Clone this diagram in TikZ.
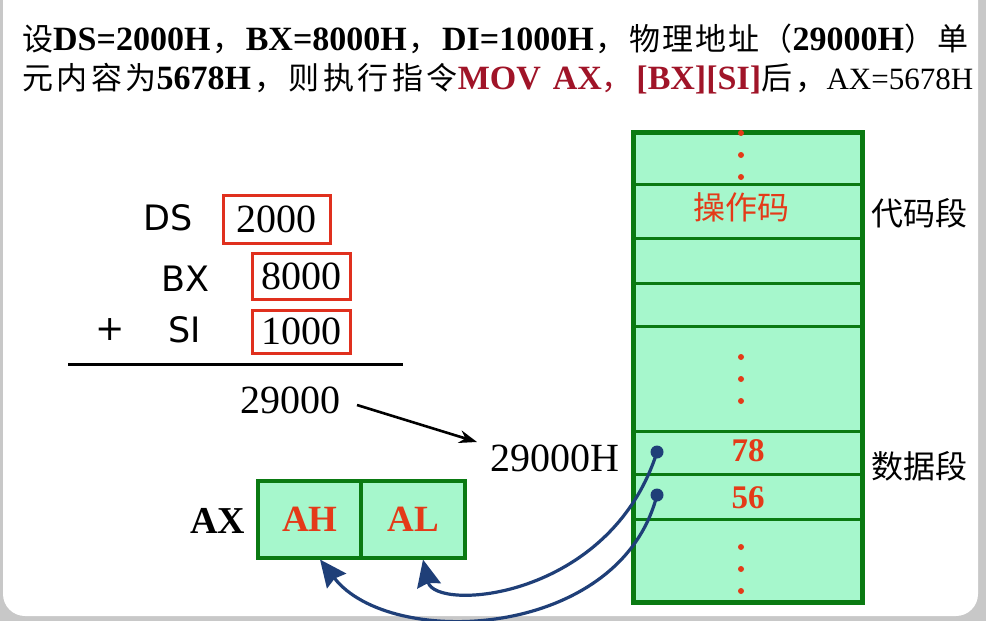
\documentclass[tikz,border=0pt]{standalone}
\usepackage{fontspec}
\setmainfont{Liberation Serif}
\newfontfamily\zhfont{Noto Sans CJK SC}
\newfontfamily\lblsans{DejaVu Sans}
\usetikzlibrary{arrows.meta}
\newcommand{\zh}[1]{{\zhfont\mdseries\fontsize{31}{31}\selectfont #1}}
\newcommand{\gl}{\hspace{0pt plus 1fil}}
\definecolor{mint}{HTML}{A6F7CC}
\definecolor{dgreen}{HTML}{0A7A12}
\definecolor{boxred}{HTML}{E0301E}
\definecolor{txtred}{HTML}{E43A18}
\definecolor{darkred}{HTML}{A01428}
\definecolor{curveblue}{HTML}{1F3F78}
\definecolor{framegray}{HTML}{C8C8C8}
\tikzset{
  cell/.style={draw=dgreen, line width=3pt, fill=mint, minimum width=227pt, anchor=north west, inner sep=0pt},
  regbox/.style={draw=boxred, line width=3pt, inner sep=0pt, font=\fontsize{40}{40}\selectfont},
  lbl/.style={inner sep=0pt, font=\lblsans\fontsize{35}{35}\selectfont},
  dotr/.style={circle, fill=txtred, inner sep=0pt, minimum size=6pt},
  bdot/.style={circle, fill=curveblue, inner sep=0pt, minimum size=13pt},
  flow/.style={draw=curveblue, line width=3.2pt, -{Stealth[length=27pt,width=24pt,inset=3pt]}},
  axcell/.style={draw=dgreen, line width=4pt, fill=mint, minimum height=77pt, inner sep=0pt, font=\bfseries\fontsize{37}{37}\selectfont\color{txtred}},
  ttl/.style={anchor=base west, inner sep=0pt, font=\bfseries\fontsize{34}{34}\selectfont},
}
\begin{document}
\begin{tikzpicture}[x=1pt,y=-1pt]
\useasboundingbox (0,0) rectangle (986,621);
\fill[framegray] (0,0) rectangle (986,621);
\fill[white, rounded corners=22pt] (3,-30) rectangle (978,616);
% title
\node[ttl] (t1) at (22,50)
  {\makebox[946pt][s]{\zh{设}DS=2000H\gl\zh{，}\gl BX=8000H\gl\zh{，}\gl DI=1000H\gl\zh{，}\gl\zh{物}\gl\zh{理}\gl\zh{地}\gl\zh{址}\gl\zh{（}29000H\zh{）}\gl\zh{单}}};
\node[ttl] (t2) at (22,89)
  {\makebox[951pt][s]{\zh{元}\gl\zh{内}\gl\zh{容}\gl\zh{为}5678H\gl\zh{，}\gl\zh{则}\gl\zh{执}\gl\zh{行}\gl\zh{指}\gl\zh{令}\textcolor{darkred}{MOV\gl\ AX\zh{，}\gl[BX][SI]}\zh{后}\gl\zh{，}{\mdseries\fontsize{31}{31}\selectfont AX=5678H}}};
% memory column
\node[cell, minimum height=51pt] (m1) at (633,132) {};
\node[cell, minimum height=54pt] (m2) at (633,183) {};
\node[cell, minimum height=45pt] (m3) at (633,237) {};
\node[cell, minimum height=43pt] (m4) at (633,282) {};
\node[cell, minimum height=105pt] (m5) at (633,325) {};
\node[cell, minimum height=43pt] (m6) at (633,430) {};
\node[cell, minimum height=45pt] (m7) at (633,473) {};
\node[cell, minimum height=82pt] (m8) at (633,518) {};
\draw[dgreen, line width=4.5pt] (m1.north west) rectangle (m8.south east);
\foreach \y [count=\i] in {133,155,177,357,379,401,547,569,591}
  \node[dotr] (dot\i) at (741,\y) {};
\node[inner sep=0pt, font=\zhfont\fontsize{32}{32}\selectfont, text=txtred] (op) at (741,207) {操作码};
\node[inner sep=0pt, font=\bfseries\fontsize{33}{33}\selectfont, text=txtred] (v78) at (748,451) {78};
\node[inner sep=0pt, font=\bfseries\fontsize{33}{33}\selectfont, text=txtred] (v56) at (748,498) {56};
\node[inner sep=0pt, font=\zhfont\fontsize{32}{32}\selectfont] (cs) at (919,213) {代码段};
\node[inner sep=0pt, font=\zhfont\fontsize{32}{32}\selectfont] (dsg) at (919,466) {数据段};
% address computation
\node[lbl] (ds) at (168,218) {DS};
\node[regbox, minimum width=107pt, minimum height=48pt] (r1) at (276.5,219) {2000};
\node[lbl] (bx) at (185,279) {BX};
\node[regbox, minimum width=98pt, minimum height=46pt] (r2) at (301,276) {8000};
\node[lbl] (plus) at (110,330) {+};
\node[lbl] (si) at (185,330) {SI};
\node[regbox, minimum width=98pt, minimum height=43pt] (r3) at (301,331.5) {1000};
\coordinate (la) at (68,364);
\coordinate (lb) at (403,364);
\draw[line width=3pt] (la) -- (lb);
\node[inner sep=0pt, font=\fontsize{40}{40}\selectfont] (sum) at (290,400) {29000};
\node[inner sep=0pt, font=\fontsize{40}{40}\selectfont] (pa) at (555,458) {29000H};
\coordinate (arS) at (357,405);
\coordinate (arE) at (477,442);
\draw[line width=2.6pt, -{Stealth[length=18pt,width=13pt]}] (arS) -- (arE);
% AX register
\node[inner sep=0pt, font=\bfseries\fontsize{38}{38}\selectfont] (axl) at (218,521) {AX};
\node[axcell, minimum width=104pt] (ah) at (310,519) {AH};
\node[axcell, minimum width=104pt] (al) at (413,519) {AL};
% blue pointers
\node[bdot] (b1) at (657,452) {};
\node[bdot] (b2) at (657,495) {};
\draw[flow] (b1.center) .. controls (610,600) and (435,612) .. ([xshift=10pt]al.south);
\draw[flow] (b2.center) .. controls (620,640) and (390,650) .. ([xshift=10pt]ah.south);
\end{tikzpicture}
\end{document}
